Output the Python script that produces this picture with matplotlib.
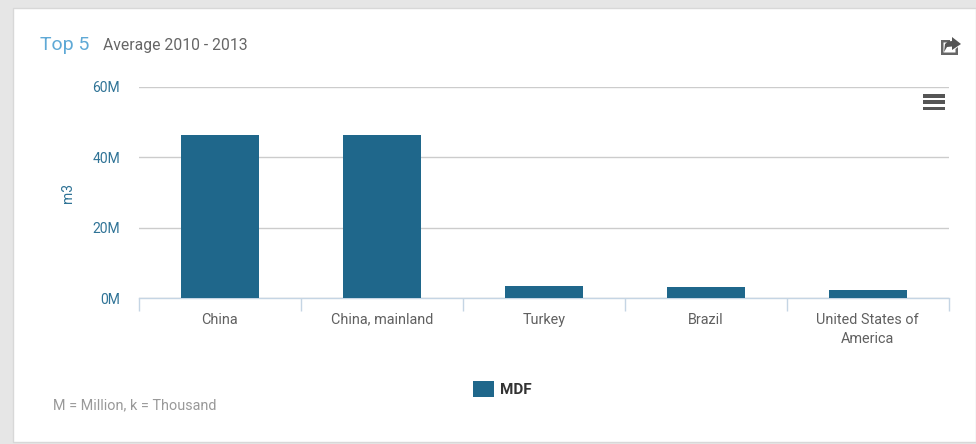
import matplotlib
matplotlib.use("Agg")
import matplotlib.pyplot as plt
from matplotlib.patches import Rectangle, Polygon

# data
categories = ["China", "China, mainland", "Turkey", "Brazil", "United States of\nAmerica"]
mdf_values = [46.2, 46.2, 3.4, 3.1, 2.4]
y_ticks = [0, 20, 40, 60]
y_labels = ["0M", "20M", "40M", "60M"]

W, H = 976, 444
plt.rcParams["font.family"] = ["Roboto", "DejaVu Sans"]

fig = plt.figure(figsize=(W / 100, H / 100), dpi=100, facecolor="#e6e6e6")


def px(x, y):
    # pixel position from top left -> figure fraction
    return x / W, 1 - y / H


# white card, has to stay behind the axes
card = Rectangle(px(13, 442), (W - 13) / W, 434 / H, transform=fig.transFigure,
                 facecolor="white", edgecolor="#d8d8d8", linewidth=1, zorder=-1)
fig.add_artist(card)

# plot area
x0, y0 = px(138.8, 298)
x1, y1 = px(948.8, 86.5)
ax = fig.add_axes([x0, y0, x1 - x0, y1 - y0])
ax.set_facecolor("none")

positions = list(range(len(categories)))
ax.bar(positions, mdf_values, width=0.485, color="#1f678b", zorder=3)

ax.set_xlim(-0.5, 4.5)
ax.set_ylim(0, 60)
ax.set_yticks(y_ticks)
ax.set_yticklabels(y_labels, fontsize=10, color="#2f7396")
ax.tick_params(axis="y", length=0, pad=13.5)
ax.grid(axis="y", color="#cccccc", linewidth=1, zorder=0)
ax.set_axisbelow(True)

# category ticks sit between the bars
ax.set_xticks([p - 0.5 for p in positions] + [4.5])
ax.set_xticklabels([])
ax.tick_params(axis="x", length=9, width=1, color="#c5d5e4")
for p, name in zip(positions, categories):
    ax.annotate(name, (p, 0), xycoords="data", xytext=(0, -10.5), textcoords="offset points",
                ha="center", va="top", fontsize=10.4, color="#606060", linespacing=1.45)

for side in ["top", "right", "left"]:
    ax.spines[side].set_visible(False)
ax.spines["bottom"].set_color("#c5d5e4")
ax.spines["bottom"].set_linewidth(1)

fig.text(*px(68, 193), "m3", rotation=90, ha="center", va="center", fontsize=10, color="#2f7396")

# header
fig.text(*px(40, 45), "Top 5", ha="left", va="center", fontsize=14, color="#5fa9d6")
fig.text(*px(103, 45.5), "Average 2010 - 2013", ha="left", va="center", fontsize=11.3, color="#666666")

# footer note
fig.text(*px(53, 405), "M = Million, k = Thousand", ha="left", va="center", fontsize=10.4, color="#999999")

# legend
fig.add_artist(Rectangle(px(473, 397), 21 / W, 16 / H, transform=fig.transFigure,
                         facecolor="#1f678b", edgecolor="none"))
fig.text(*px(500, 390), "MDF", ha="left", va="center", fontsize=11, color="#333333", fontweight="bold")

# menu icon
for yy in [94, 100, 106.5]:
    fig.add_artist(Rectangle(px(923, yy + 4), 22 / W, 3.6 / H, transform=fig.transFigure,
                             facecolor="#555555", edgecolor="none"))

# share icon
box = [px(*p) for p in [(941, 40), (950, 40), (950, 42.5), (943.5, 42.5), (943.5, 52.5),
                        (955.5, 52.5), (955.5, 49), (958, 47), (958, 55), (941, 55)]]
fig.add_artist(Polygon(box, closed=True, transform=fig.transFigure, facecolor="#666666", edgecolor="none"))
arrow = [px(*p) for p in [(952, 37), (961, 44), (952, 50), (952, 46.5), (947, 47), (944, 52),
                          (945, 44), (948, 41.5), (952, 41)]]
fig.add_artist(Polygon(arrow, closed=True, transform=fig.transFigure, facecolor="#555555", edgecolor="none"))

fig.savefig("out.png", dpi=100, facecolor=fig.get_facecolor())
